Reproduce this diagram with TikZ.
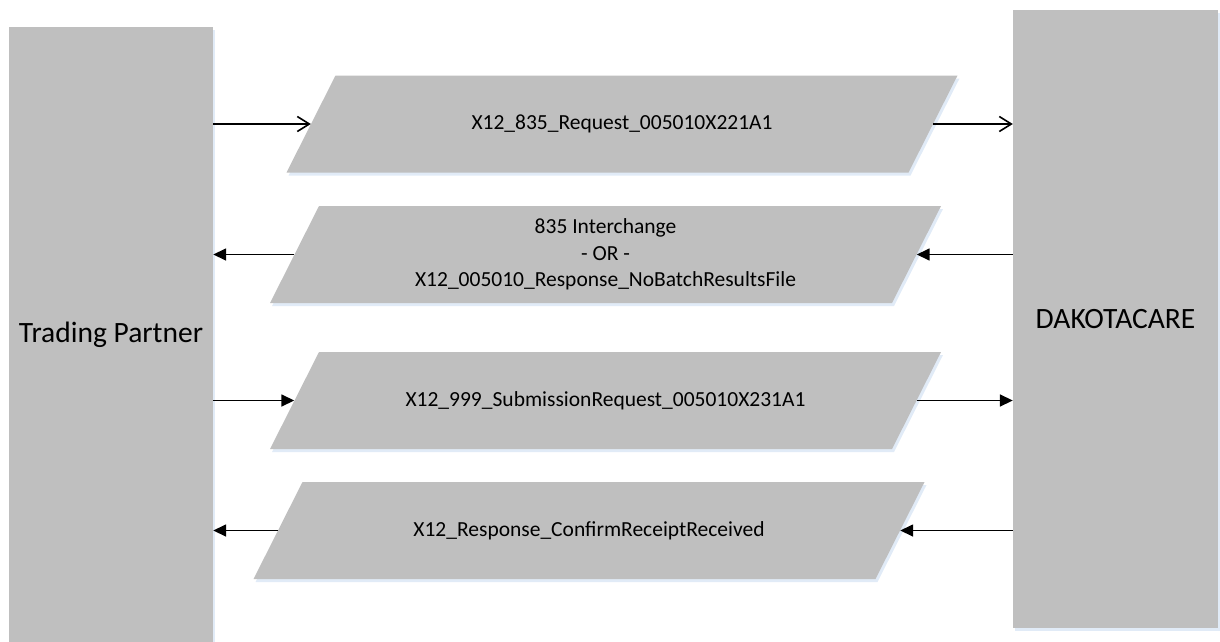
\documentclass[tikz,border=0pt]{standalone}
\usepackage{fontspec}
\setmainfont{Carlito}
\usetikzlibrary{arrows.meta,shadows}
\definecolor{boxgray}{RGB}{191,191,191}
\definecolor{shadowblue}{RGB}{225,235,247}
\begin{document}
\begin{tikzpicture}[x=1pt,y=-1pt,
  softshadow/.style={drop shadow={shadow xshift=2pt,shadow yshift=-3pt,fill=shadowblue,opacity=1}},
  party/.style={draw=none,fill=boxgray,inner sep=0pt,minimum width=#1,
    font=\fontsize{29.5}{36}\selectfont,softshadow},
  msg/.style={draw=none,inner sep=0pt,minimum height=97,minimum width=622,align=center,
    font=\fontsize{21.5}{26.5}\selectfont},
  slantfill/.style={fill=boxgray,softshadow},
  flow/.style={line width=1.6pt},
  openhead/.style={flow,-{Straight Barb[length=12pt,width=15pt,line width=1.6pt]}},
  fillhead/.style={flow,-{Triangle[length=13pt,width=12pt]}}]
\useasboundingbox (0,0) rectangle (1220,642);
\node[party=204, minimum height=615] (tp) at (111,334.5) {Trading Partner};
\node[party=205, minimum height=618] (dc) at (1115.5,319) {DAKOTACARE};
% message parallelograms: filled shape behind named text nodes
\foreach \c/\y in {622/124, 605.5/254.5, 605.5/400.5, 589/530.5}{
  \fill[slantfill] (\c-311+24.5,\y-48.5) -- (\c+311+24.5,\y-48.5)
    -- (\c+311-24.5,\y+48.5) -- (\c-311-24.5,\y+48.5) -- cycle;
}
\node[msg] (m1) at (622,124) {X12\_835\_Request\_005010X221A1};
\node[msg] (m2) at (605.5,254.5) {835 Interchange\\- OR -\\X12\_005010\_Response\_NoBatchResultsFile};
\node[msg] (m3) at (605.5,400.5) {X12\_999\_SubmissionRequest\_005010X231A1};
\node[msg] (m4) at (589,530.5) {X12\_Response\_ConfirmReceiptReceived};
\draw[openhead] (tp.east |- m1.west) -- (m1.west);
\draw[openhead] (m1.east) -- (dc.west |- m1.east);
\draw[fillhead] (dc.west |- m2.east) -- (m2.east);
\draw[fillhead] (m2.west) -- (tp.east |- m2.west);
\draw[fillhead] (tp.east |- m3.west) -- (m3.west);
\draw[fillhead] (m3.east) -- (dc.west |- m3.east);
\draw[fillhead] (dc.west |- m4.east) -- (m4.east);
\draw[fillhead] (m4.west) -- (tp.east |- m4.west);
\end{tikzpicture}
\end{document}
